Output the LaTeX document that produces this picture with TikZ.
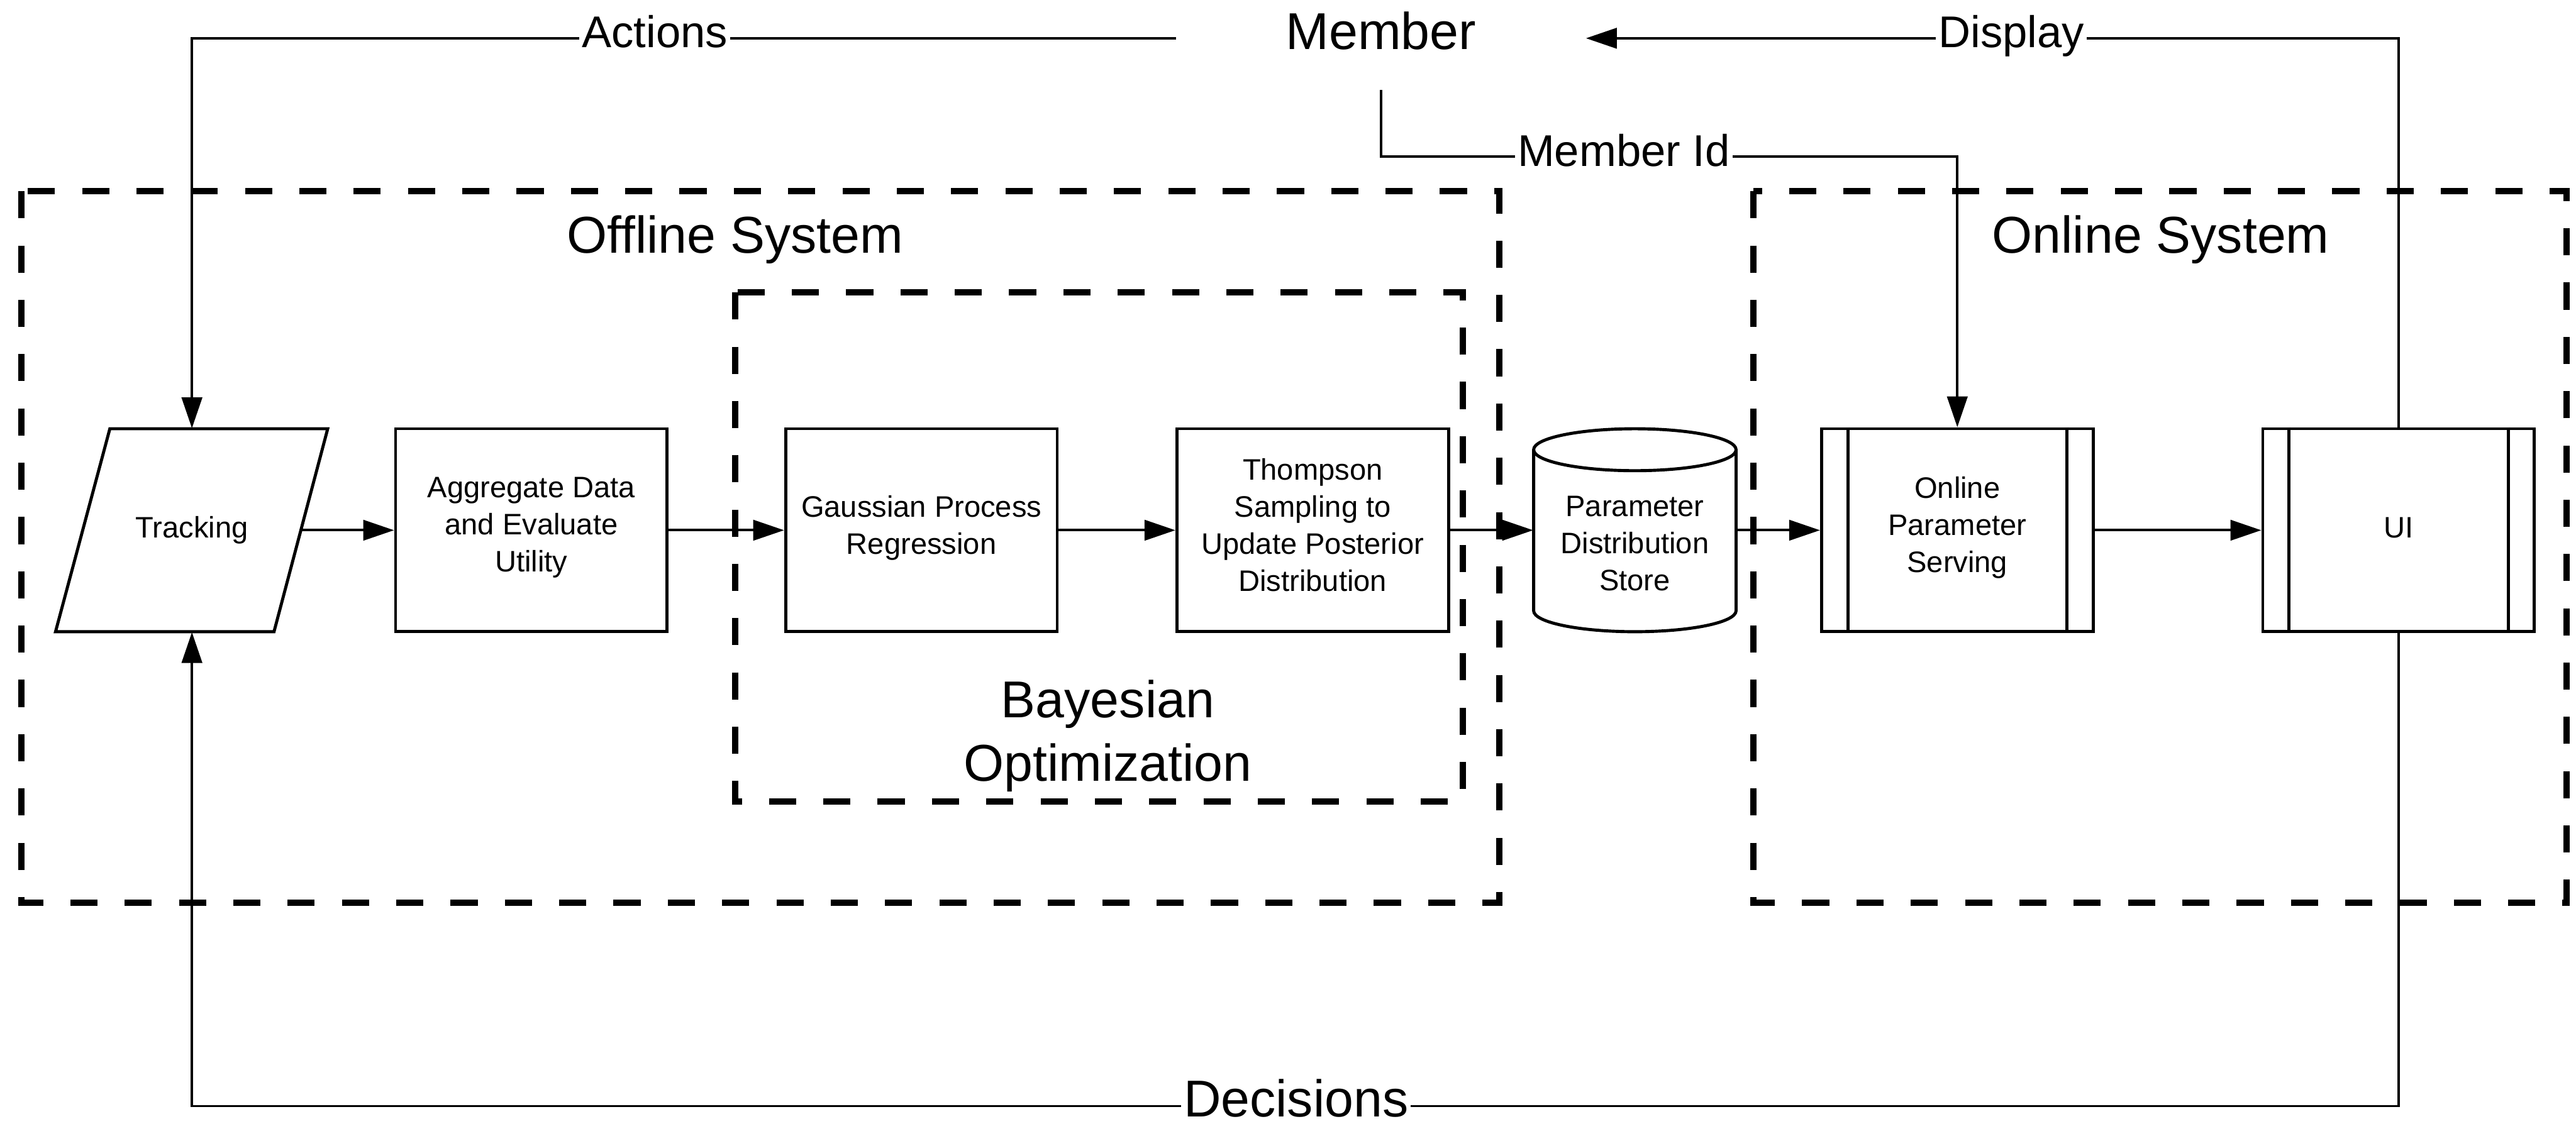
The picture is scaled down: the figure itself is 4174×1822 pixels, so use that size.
\documentclass[tikz,border=0pt]{standalone}
\usepackage{fontspec}
\setmainfont{Liberation Sans}
\usetikzlibrary{arrows.meta}
\begin{document}
\begin{tikzpicture}[x=0.25pt,y=-0.25pt,
  boxline/.style={line width=1.25pt, draw=black},
  txt/.style={align=center, inner sep=0pt, font=\fontsize{12}{15}\selectfont,
    execute at begin node=\strut, execute at end node=\strut},
  proc/.style={txt, boxline, fill=white, rectangle, minimum width=110pt, minimum height=82.25pt},
  grp/.style={line width=2.6pt, dash pattern=on 11pt off 11pt},
  conn/.style={line width=1pt, -{Triangle[length=12.5pt,width=8.25pt]}},
  lbl/.style={fill=white, inner xsep=1pt, inner ysep=1pt, font=\fontsize{18}{21}\selectfont, anchor=base},
  ttl/.style={font=\fontsize{21}{25.5}\selectfont, align=center}
]
\useasboundingbox (0,0) rectangle (4174,1822);

% group containers
\draw[grp] (35,310) rectangle (2429,1463);
\draw[grp] (2841,310) rectangle (4159,1463);
\draw[grp] (1191,474) rectangle (2370,1299);
\node[ttl, anchor=base] (offT) at (1191,410) {Offline System};
\node[ttl, anchor=base] (onT) at (3501,410) {Online System};
\node[ttl] (bayT) at (1795,1193) {Bayesian\\Optimization};

% member
\node[font=\fontsize{21}{25.5}\selectfont, minimum width=165.75pt, minimum height=41.5pt,
  inner sep=0pt, text height=15pt, text depth=6pt] (member) at (2237.5,62) {Member};

% tracking
\draw[boxline, fill=white] (178,695) -- (531,695) -- (444,1024) -- (90,1024) -- cycle;
\node[txt, minimum width=88.5pt, minimum height=82.25pt] (track) at (311,859.5) {Tracking};

% processes
\node[proc] (agg) at (861,859.5) {Aggregate Data\\and Evaluate\\Utility};
\node[proc] (gauss) at (1493,859.5) {Gaussian Process\\Regression};
\node[proc] (thomp) at (2127,859.5) {Thompson\\Sampling to\\Update Posterior\\Distribution};

% store (cylinder)
\draw[boxline, fill=white] (2485,729) -- (2485,990)
  arc[start angle=180, end angle=360, x radius=41pt, y radius=8.5pt] -- (2813,729);
\draw[boxline] (2649,729) ellipse[x radius=41pt, y radius=8.5pt];
\node[txt, minimum width=82pt] (store) at (2649,890) {Parameter\\Distribution\\Store};

% online serving and UI
\node[proc] (serve) at (3171.5,859.5) {Online\\Parameter\\Serving};
\draw[boxline] ([xshift=11.25pt]serve.north west) -- ([xshift=11.25pt]serve.south west);
\draw[boxline] ([xshift=-11.25pt]serve.north east) -- ([xshift=-11.25pt]serve.south east);
\node[proc] (ui) at (3886.5,859.5) {UI};
\draw[boxline] ([xshift=11.25pt]ui.north west) -- ([xshift=11.25pt]ui.south west);
\draw[boxline] ([xshift=-11.25pt]ui.north east) -- ([xshift=-11.25pt]ui.south east);

% main flow
\draw[conn] (track.east) -- (agg.west);
\draw[conn] (agg.east) -- (gauss.west);
\draw[conn] (gauss.east) -- (thomp.west);
\draw[conn] (thomp.east) -- (thomp.east -| store.west);
\draw[conn] (thomp.east -| store.east) -- (serve.west);
\draw[conn] (serve.east) -- (ui.west);

% feedback loops
\coordinate (midId) at (2237.5,254);
\coordinate (decB) at (3886.5,1793);
\draw[conn] (member.west) -| (track.north);
\draw[conn] (ui.north) |- (member.east);
\draw[conn] (member.south) -- (midId) -| (serve.north);
\draw[conn] (ui.south) -- (decB) -| (track.south);

% connector labels
\node[lbl] (lAct) at (1061,77) {Actions};
\node[lbl] (lDis) at (3259,77) {Display};
\node[lbl] (lId) at (2631,270) {Member Id};
\node[lbl, font=\fontsize{21}{25.5}\selectfont] (lDec) at (2100,1810) {Decisions};
\end{tikzpicture}
\end{document}
